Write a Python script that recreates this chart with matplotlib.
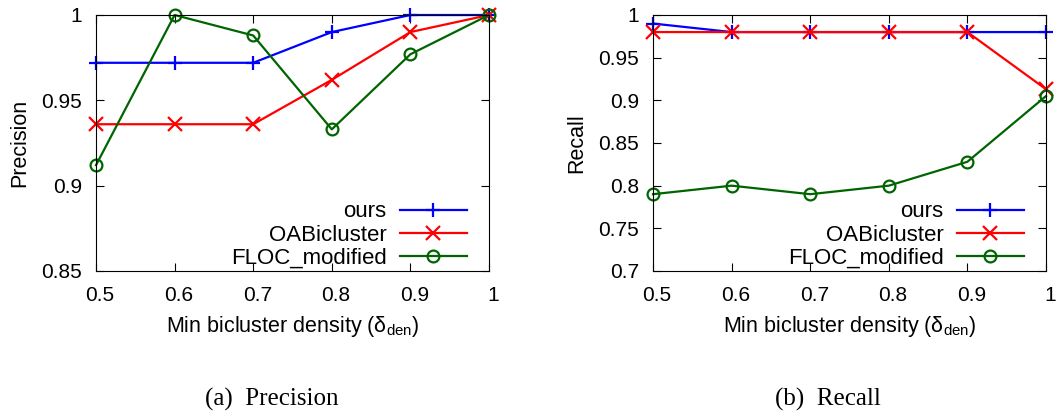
import matplotlib
matplotlib.use('Agg')
import matplotlib.pyplot as plt
import matplotlib.transforms as mtransforms
from matplotlib.ticker import FormatStrFormatter

plt.rcParams['font.family'] = ['Liberation Sans', 'DejaVu Sans']
plt.rcParams['mathtext.fontset'] = 'custom'
plt.rcParams['mathtext.rm'] = 'Liberation Sans'
plt.rcParams['mathtext.it'] = 'Liberation Sans:italic'

density = [0.5, 0.6, 0.7, 0.8, 0.9, 1.0]

prec_ours = [0.972, 0.972, 0.972, 0.990, 1.000, 1.000]
prec_oab = [0.936, 0.936, 0.936, 0.962, 0.990, 1.000]
prec_floc = [0.912, 1.000, 0.988, 0.933, 0.977, 1.000]

rec_ours = [0.990, 0.980, 0.980, 0.980, 0.980, 0.980]
rec_oab = [0.980, 0.980, 0.980, 0.980, 0.980, 0.913]
rec_floc = [0.790, 0.800, 0.790, 0.800, 0.828, 0.905]

labels = ['ours', 'OABicluster', 'FLOC_modified']
colours = ['#0000ff', '#ff0000', '#006400']
markers = ['+', 'x', 'o']

fig = plt.figure(figsize=(10.6, 4.13), dpi=100)
ax1 = fig.add_axes([96/1060, 1-271/413, 393/1060, 256/413])
ax2 = fig.add_axes([653/1060, 1-271/413, 393/1060, 256/413])

# gnuplot puts the x tick labels slightly right of the tick
shift = mtransforms.ScaledTranslation(4/100, 0, fig.dpi_scale_trans)


def draw(ax, series, ylim, yticks, ylabel):
    for ys, lab, col, mk in zip(series, labels, colours, markers):
        fc = 'none' if mk == 'o' else col
        ax.plot(density, ys, color=col, lw=1.6, marker=mk, ms=10 if mk != 'o' else 8.5,
                mew=1.6, mfc=fc, label=lab, clip_on=False)
    ax.set_xlim(0.5, 1.0)
    ax.set_ylim(*ylim)
    ax.set_xticks(density)
    ax.set_yticks(yticks)
    ax.xaxis.set_major_formatter(FormatStrFormatter('%g'))
    ax.yaxis.set_major_formatter(FormatStrFormatter('%g'))
    ax.tick_params(direction='in', top=True, right=True, length=6, labelsize=15)
    ax.tick_params(axis='x', pad=11)
    ax.tick_params(axis='y', pad=10)
    for t in ax.get_xticklabels():
        t.set_transform(t.get_transform() + shift)
    ax.set_ylabel(ylabel, fontsize=15.5, labelpad=8)
    ax.set_xlabel(r'Min bicluster density (δ$_{\rm den}$)', fontsize=15.5, labelpad=6)
    ax.legend(loc='lower right', bbox_to_anchor=(0.949, 0.0), frameon=False,
              markerfirst=False, fontsize=16, handlelength=3.0, labelspacing=0.1,
              handletextpad=0.6, borderaxespad=0.1, borderpad=0)


draw(ax1, [prec_ours, prec_oab, prec_floc], (0.85, 1.0),
     [0.85, 0.9, 0.95, 1.0], 'Precision')
draw(ax2, [rec_ours, rec_oab, rec_floc], (0.7, 1.0),
     [0.7, 0.75, 0.8, 0.85, 0.9, 0.95, 1.0], 'Recall')

fig.text(272/1060, 1-399/413, '(a)  Precision', ha='center', va='center',
         fontsize=18, family='Liberation Serif')
fig.text(828/1060, 1-399/413, '(b)  Recall', ha='center', va='center',
         fontsize=18, family='Liberation Serif')

fig.savefig('out.png', dpi=100)
